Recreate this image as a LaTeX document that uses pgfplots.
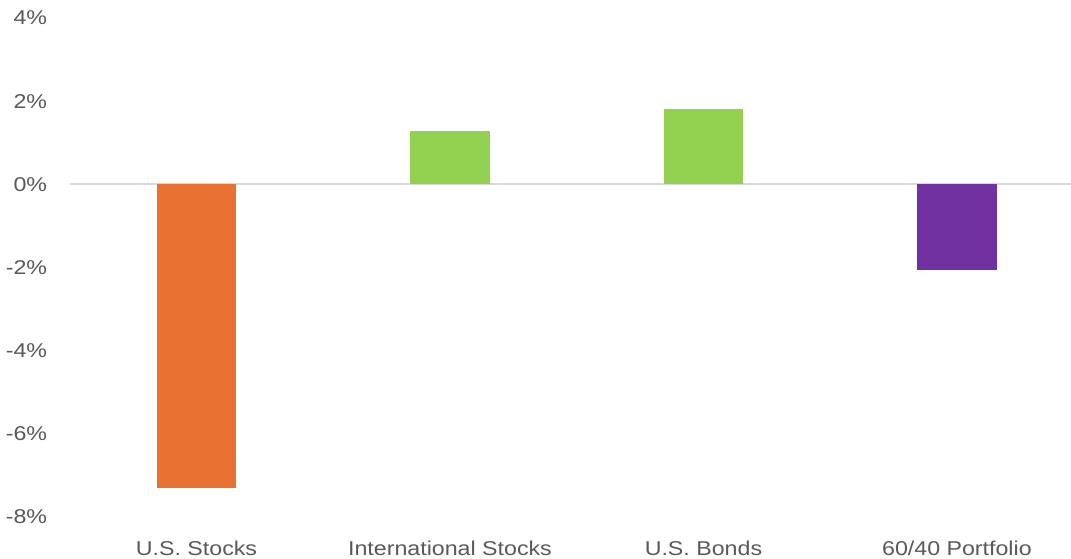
\documentclass[border=0pt]{standalone}
\usepackage{fontspec}
\setmainfont{Liberation Sans}[FakeStretch=1.16]
\usepackage{pgfplots}
\pgfplotsset{compat=1.18}
\definecolor{txt}{HTML}{595959}
\definecolor{zl}{HTML}{D9D9D9}
\definecolor{cor}{HTML}{E97132}
\definecolor{cgr}{HTML}{92D050}
\definecolor{cpu}{HTML}{7030A0}
\begin{document}
\begin{tikzpicture}
\begin{axis}[
  at={(0pt,0pt)}, anchor=south west,
  scale only axis,
  width=1001.25pt, height=499.2pt,
  xmin=-0.5, xmax=3.45,
  ymin=-8, ymax=4,
  ytick={-8,-6,-4,-2,0,2,4},
  xtick={0,1,2,3},
  xticklabels={U.S. Stocks,International Stocks,U.S. Bonds,60/40 Portfolio},
  /pgf/number format/assume math mode=true,
  yticklabel={\pgfmathprintnumber{\tick}\%},
  axis line style={draw=none},
  major tick style={draw=none},
  every tick label/.append style={font=\fontsize{20}{22}\selectfont, text=txt, inner sep=0pt},
  yticklabel style={anchor=east, xshift=-22.5pt},
  xticklabel style={anchor=base, yshift=-34.5pt},
  extra y ticks={0},
  extra y tick labels={},
  extra y tick style={grid=major, major grid style={draw=zl, line width=2pt}},
  ybar, bar width=79.4pt, bar shift=0pt,
  clip=false,
]
\addplot[fill=cor, draw=none] coordinates {(0,-7.31)};
\addplot[fill=cgr, draw=none] coordinates {(1,1.29)};
\addplot[fill=cgr, draw=none] coordinates {(2,1.81)};
\addplot[fill=cpu, draw=none] coordinates {(3,-2.06)};
\end{axis}
\pgfresetboundingbox
\useasboundingbox (-69.75pt,-40.9pt) rectangle (1001.25pt,517.1pt);
\end{tikzpicture}
\end{document}
